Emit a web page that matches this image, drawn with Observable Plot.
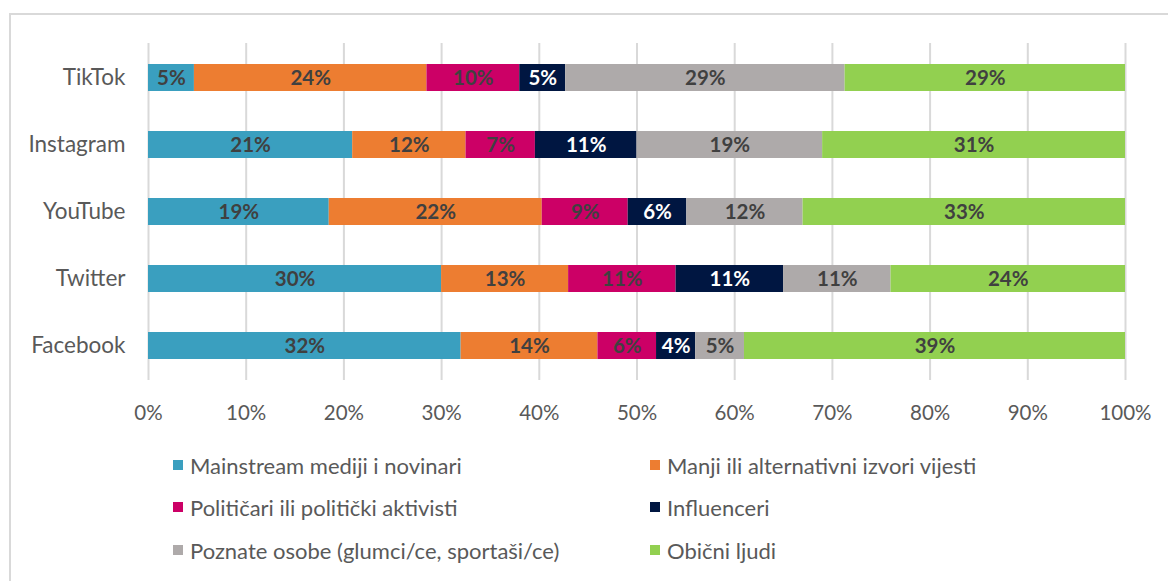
<!DOCTYPE html>
<html>
<head>
<meta charset="utf-8">
<script src="https://cdn.jsdelivr.net/npm/d3@7"></script>
<script src="https://cdn.jsdelivr.net/npm/@observablehq/plot@0.6"></script>
<style>
  html, body { margin: 0; padding: 0; background: #fff; width: 1168px; height: 581px; overflow: hidden; }
  #frame { position: absolute; left: 9px; top: 13px; width: 1170px; height: 600px; border: 2px solid #D9D9D9; box-sizing: border-box; }
  #chart { position: absolute; left: 0; top: 0; }
  #legend { position: absolute; left: 0; top: 0; font-family: Lato, "Open Sans", sans-serif; font-size: 22px; color: #595959; }
  .item { position: absolute; display: flex; align-items: center; white-space: nowrap; }
  .sw { width: 10px; height: 10px; margin-right: 7px; }
</style>
</head>
<body>
<div id="frame"></div>
<div id="chart"></div>
<div id="legend"></div>
<script>
const platforms = ["TikTok", "Instagram", "YouTube", "Twitter", "Facebook"];
const seriesNames = [
  "Mainstream mediji i novinari",
  "Manji ili alternativni izvori vijesti",
  "Političari ili politički aktivisti",
  "Influenceri",
  "Poznate osobe (glumci/ce, sportaši/ce)",
  "Obični ljudi"
];
const colors = ["#3A9FBF", "#ED7D31", "#CC0066", "#001641", "#AEAAAA", "#92D050"];
// shares (%) per platform, in series order
const mainstream   = [4.7, 20.9, 18.5, 30.0, 32.0];
const alternative  = [23.8, 11.6, 21.8, 13.0, 14.0];
const politicians  = [9.5, 7.1, 8.8, 11.0, 6.0];
const influencers  = [4.7, 10.4, 6.0, 11.0, 4.0];
const celebrities  = [28.6, 19.0, 11.9, 11.0, 5.0];
const ordinary     = [28.7, 31.0, 33.0, 24.0, 39.0];
// data labels as shown
const lblMainstream  = ["5%", "21%", "19%", "30%", "32%"];
const lblAlternative = ["24%", "12%", "22%", "13%", "14%"];
const lblPoliticians = ["10%", "7%", "9%", "11%", "6%"];
const lblInfluencers = ["5%", "11%", "6%", "11%", "4%"];
const lblCelebrities = ["29%", "19%", "12%", "11%", "5%"];
const lblOrdinary    = ["29%", "31%", "33%", "24%", "39%"];
const xTicks = [0, 10, 20, 30, 40, 50, 60, 70, 80, 90, 100];

const valueSets = [mainstream, alternative, politicians, influencers, celebrities, ordinary];
const labelSets = [lblMainstream, lblAlternative, lblPoliticians, lblInfluencers, lblCelebrities, lblOrdinary];

const data = [];
platforms.forEach((p, i) => {
  seriesNames.forEach((s, j) => {
    data.push({platform: p, series: s, value: valueSets[j][i], label: labelSets[j][i]});
  });
});

const font = 'Lato, "Open Sans", sans-serif';

const chart = Plot.plot({
  width: 1168,
  height: 440,
  marginLeft: 148,
  marginRight: 43,
  marginTop: 43,
  marginBottom: 60,
  style: {fontFamily: font, fontSize: "20.5px", color: "#595959", background: "transparent"},
  x: {domain: [0, 100], ticks: xTicks, tickFormat: d => d + "%", tickSize: 0, tickPadding: 25, label: null},
  y: {domain: platforms, paddingInner: 0.6, paddingOuter: 0.3, tickSize: 0, tickPadding: 23, label: null},
  color: {domain: seriesNames, range: colors},
  marks: [
    Plot.ruleX(xTicks, {stroke: "#D9D9D9", strokeWidth: 2}),
    Plot.barX(data, Plot.stackX({x: "value", y: "platform", fill: "series", order: null})),
    Plot.text(data, Plot.stackX({
      x: "value", y: "platform", z: "series", order: null,
      text: "label",
      fill: d => d.series === "Influenceri" ? "#FFFFFF" : "#404040",
      fontWeight: "bold", fontSize: 20.5
    }))
  ]
});
chart.querySelectorAll('[aria-label="y-axis tick label"] text').forEach(t => t.style.fontSize = "22.5px");
document.getElementById("chart").appendChild(chart);

// legend built from the series arrays
const legend = document.getElementById("legend");
const colX = [173, 650];
const rowY = [465, 507, 550];
seriesNames.forEach((s, j) => {
  const it = document.createElement("div");
  it.className = "item";
  it.style.left = colX[j % 2] + "px";
  it.style.top = (rowY[Math.floor(j / 2)] - 13) + "px";
  it.style.height = "26px";
  const sw = document.createElement("span");
  sw.className = "sw";
  sw.style.background = colors[j];
  const tx = document.createElement("span");
  tx.textContent = s;
  it.appendChild(sw);
  it.appendChild(tx);
  legend.appendChild(it);
});
</script>
</body>
</html>
